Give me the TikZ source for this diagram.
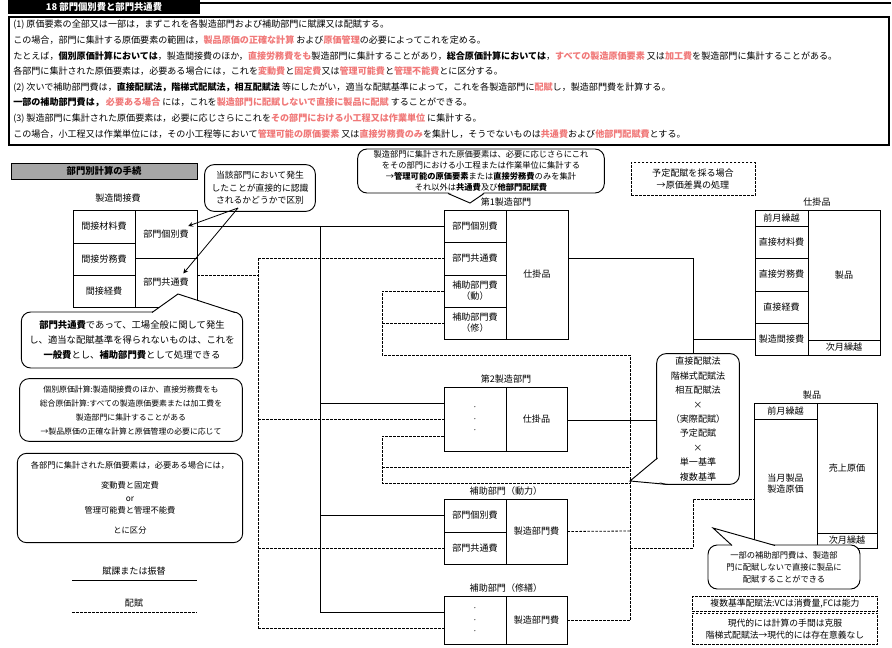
\documentclass[tikz,border=0pt]{standalone}
\usepackage{fontspec}
\setmainfont{Noto Sans CJK JP}
\usetikzlibrary{arrows,positioning,calc}
\definecolor{hlred}{RGB}{240,120,120}
\newcommand\hl[1]{\textcolor{hlred}{\textbf{#1}}}
\newcommand\fs[2]{\fontsize{#1}{#2}\selectfont}
\tikzstyle{cell} = [draw, inner sep=0pt, align=center, font=\fs{6.8pt}{8.4pt}]
\tikzstyle{fuka} = [draw=black, line width=0.6pt]
\tikzstyle{haifu} = [draw=black, line width=0.6pt, dash pattern=on 2pt off 1pt]
\tikzstyle{callout} = [draw, fill=white, rounded corners=7pt, align=center, line width=0.7pt, inner sep=0pt]
\tikzstyle{memo} = [haifu, fill=white, align=center, inner sep=0pt]
\tikzstyle{arrowK} = [line width=0.6pt,->,>=stealth]
\tikzstyle{lbl} = [font=\fs{6.8pt}{8.4pt}]
% cell: name, x1, y1, x2, y2, text (pixel units)
\newcommand\mkcell[6]{\node[cell, minimum width={(#4-#2)*0.75pt}, minimum height={(#5-#3)*0.75pt}] (#1) at ({(#2+#4)/2},{(#3+#5)/2}) {#6};}

\begin{document}
\begin{tikzpicture}[x=0.75pt,y=-0.75pt]
    \useasboundingbox (0,0) rectangle (892,648);
    % header
    \node (tab) [fill=black, text=white, font=\fs{7pt}{8pt}\bfseries, minimum width=144pt, minimum height=10.5pt, inner sep=0pt] at (104,7) {18 部門個別費と部門共通費};
    \coordinate (topEnd) at (891,3);
    \draw[line width=1.2pt] (tab.east |- topEnd) -- (topEnd);
    \node (honbunBox) [draw, line width=1.1pt, minimum width=661pt, minimum height=97pt, inner sep=0pt] at (449,81) {};
    \draw[line width=0.5pt] ($(honbunBox.north west)+(2,2)$) rectangle ($(honbunBox.south east)+(-2,-2)$);
    \node (honbun) [anchor=north west, align=left, inner sep=0pt, font=\fs{6.8pt}{11.7pt}] at (13,20) {%
        (1) 原価要素の全部又は一部は，まずこれを各製造部門および補助部門に賦課又は配賦する。\\
        この場合，部門に集計する原価要素の範囲は，\hl{製品原価の正確な計算} および\hl{原価管理}の必要によってこれを定める。\\
        たとえば，\textbf{個別原価計算においては}，製造間接費のほか，\hl{直接労務費をも}製造部門に集計することがあり，\textbf{総合原価計算においては}，\hl{すべての製造原価要素} 又は\hl{加工費}を製造部門に集計することがある。\\
        各部門に集計された原価要素は，必要ある場合には，これを\hl{変動費}と\hl{固定費}又は\hl{管理可能費}と\hl{管理不能費}とに区分する。\\
        (2) 次いで補助部門費は，\textbf{直接配賦法，階梯式配賦法，相互配賦法} 等にしたがい，適当な配賦基準によって，これを各製造部門に\hl{配賦}し，製造部門費を計算する。\\
        \textbf{一部の補助部門費は，} \hl{必要ある場合} には，これを\hl{製造部門に配賦しないで直接に製品に配賦} することができる。\\
        (3) 製造部門に集計された原価要素は，必要に応じさらにこれを\hl{その部門における小工程又は作業単位} に集計する。\\
        この場合，小工程又は作業単位には，その小工程等において\hl{管理可能の原価要素} 又は\hl{直接労務費のみ}を集計し，そうでないものは\hl{共通費}および\hl{他部門配賦費}とする。};
    \node (tetsuzuki) [draw, fill=black!35, font=\fs{7pt}{8pt}\bfseries, minimum width=139.5pt, minimum height=12pt, inner sep=0pt] at (104,171) {部門別計算の手続};

    % overhead table
    \node (seizoKan) [lbl] at (118,198) {製造間接費};
    \mkcell{kzai}{73}{210}{135}{243}{間接材料費}
    \mkcell{kro}{73}{243}{135}{275}{間接労務費}
    \mkcell{kkei}{73}{275}{135}{307}{間接経費}
    \mkcell{kobetsu}{135}{210}{197}{258}{部門個別費}
    \mkcell{kyotsu}{135}{258}{197}{307}{部門共通費}

    % first production department
    \node (dept1) [lbl] at (506,202) {第1製造部門};
    \mkcell{aKobetsu}{444}{210}{506}{242}{部門個別費}
    \mkcell{aKyotsu}{444}{242}{506}{275}{部門共通費}
    \mkcell{aDo}{444}{275}{506}{307}{補助部門費\\（動）}
    \mkcell{aShu}{444}{307}{506}{339}{補助部門費\\（修）}
    \mkcell{aWip}{506}{210}{568}{339}{仕掛品}

    % second production department
    \node (dept2) [lbl] at (506,379) {第2製造部門};
    \mkcell{bIn}{444}{387}{506}{451}{$\cdot$\\$\cdot$\\$\cdot$}
    \mkcell{bWip}{506}{387}{567}{451}{仕掛品}

    % service department (power)
    \node (dept3) [lbl] at (506,491) {補助部門（動力）};
    \mkcell{cKobetsu}{444}{499}{506}{532}{部門個別費}
    \mkcell{cKyotsu}{444}{532}{506}{564}{部門共通費}
    \mkcell{cOut}{506}{499}{567}{564}{製造部門費}

    % service department (repair)
    \node (dept4) [lbl] at (506,588) {補助部門（修繕）};
    \mkcell{dIn}{444}{596}{506}{644}{$\cdot$\\$\cdot$\\$\cdot$}
    \mkcell{dOut}{506}{596}{567}{644}{製造部門費}

    % work in process account
    \node (wipLbl) [lbl] at (817,202) {仕掛品};
    \mkcell{wMae}{755}{210}{808}{226}{前月繰越}
    \mkcell{wZai}{755}{226}{808}{258}{直接材料費}
    \mkcell{wRo}{755}{258}{808}{291}{直接労務費}
    \mkcell{wKei}{755}{291}{808}{323}{直接経費}
    \mkcell{wKan}{755}{323}{808}{355}{製造間接費}
    \mkcell{wSei}{808}{210}{880}{340}{製品}
    \mkcell{wJi}{808}{340}{880}{355}{次月繰越}

    % finished goods account
    \node (prodLbl) [lbl] at (812,395) {製品};
    \mkcell{pMae}{754}{403}{817}{419}{前月繰越}
    \mkcell{pTou}{754}{419}{817}{548}{当月製品\\製造原価}
    \mkcell{pUri}{817}{403}{877}{533}{売上原価}
    \mkcell{pJi}{817}{533}{877}{548}{次月繰越}

    % junctions
    \coordinate (sTop) at (320,226);
    \coordinate (sB) at (320,403);
    \coordinate (sC) at (320,515);
    \coordinate (sBot) at (320,612);
    \coordinate (hK) at (258,275);
    \coordinate (hTop) at (258,258);
    \coordinate (hB) at (258,419);
    \coordinate (hC) at (258,548);
    \coordinate (hBot) at (258,628);
    \coordinate (aBr) at (382,291);
    \coordinate (aBrBot) at (382,355);
    \coordinate (bBr) at (382,436);
    \coordinate (bBr2) at (382,467);
    \coordinate (bBrBot) at (382,483);
    \coordinate (rTop) at (630,355);
    \coordinate (rC) at (630,531);
    \coordinate (rD) at (630,620);
    \coordinate (rP) at (630,548);
    \coordinate (wTop) at (693,258);
    \coordinate (wMid) at (693,339);
    \coordinate (wB) at (693,420);
    \coordinate (pBend) at (693,548);
    \coordinate (pIn) at (693,499);

    % assignment (solid)
    \draw[fuka] (kobetsu.east |- sTop) -- (aKobetsu.west);
    \draw[fuka] (sTop) -- (sBot);
    \draw[fuka] (sB) -- (sB -| bIn.west);
    \draw[fuka] (sC) -- (sC -| cKobetsu.west);
    \draw[fuka] (sBot) -- (sBot -| dIn.west);
    \draw[fuka] (aWip.east |- wTop) -- (wTop) -- (wB);
    \draw[fuka] (wMid) -- (wMid -| wKan.west);
    \draw[fuka] (bWip.east |- wB) -- (wB);

    % allocation (dashed)
    \draw[haifu] (kyotsu.east |- hK) -- (hK);
    \draw[haifu] (hTop) -- (hBot);
    \draw[haifu] (hTop) -- (hTop -| aKyotsu.west);
    \draw[haifu] (hB) -- (hB -| bIn.west);
    \draw[haifu] (hC) -- (hC -| cKyotsu.west);
    \draw[haifu] (hBot) -- (hBot -| dIn.west);
    \draw[haifu] (aBr -| aDo.west) -- (aBr) -- (aBrBot) -- (rTop) -- (rD);
    \draw[haifu] (aBr |- aShu.west) -- (aShu.west);
    \draw[haifu] (bBr -| bIn.west) -- (bBr) -- (bBrBot) -- (bBrBot -| rTop);
    \draw[haifu] (bBr2) -- (bBr2 -| rTop);
    \draw[haifu] (cOut.east) -- (rC);
    \draw[haifu] (dOut.east) -- (rD);
    \draw[haifu] (rP) -- (pBend) -- (pIn) -- (pIn -| pTou.west);

    % callouts
    \node (tougai) [callout, minimum width=83pt, minimum height=35pt, font=\fs{6.6pt}{9.5pt}] at (260,188) {当該部門において発生\\したことが直接的に認識\\されるかどうかで区別};
    \coordinate (tougaiP) at (238,208);
    \draw[arrowK] (tougaiP) -- ($(kobetsu.east)+(-9,-8)$);
    \draw[arrowK] (tougaiP) -- ($(kyotsu.east)+(-14,-9)$);

    \node (ippan) [callout, minimum width=166pt, minimum height=42pt, font=\fs{7pt}{11pt}] at (132,340) {\textbf{部門共通費}であって、工場全般に関して発生\\し、適当な配賦基準を得られないものは、これを\\\textbf{一般費}とし、\textbf{補助部門費}として処理できる};
    \fill[white] (152,313) -- (178,294) -- (235,313) -- cycle;
    \draw[line width=0.7pt] (152,312.5) -- (178,294) -- (235,312.5);

    \node (kobetsuMemo) [callout, minimum width=167pt, minimum height=47pt, font=\fs{5.9pt}{10.5pt}] at (131,410) {個別原価計算:製造間接費のほか、直接労務費をも\\総合原価計算:すべての製造原価要素または加工費を\\製造部門に集計することがある\\→製品原価の正確な計算と原価管理の必要に応じて};
    \node (kubun) [callout, minimum width=169pt, minimum height=67pt, font=\fs{6.2pt}{9.6pt}] at (130,498) {各部門に集計された原価要素は，必要ある場合には，\\[5pt]変動費と固定費\\or\\管理可能費と管理不能費\\[5pt]とに区分};

    \node (shokotei) [callout, minimum width=185pt, minimum height=33pt, font=\fs{6.2pt}{8.2pt}] at (481,171) {製造部門に集計された原価要素は、必要に応じさらにこれ\\をその部門における小工程または作業単位に集計する\\→\textbf{管理可能の原価要素}または\textbf{直接労務費}のみを集計\\それ以外は\textbf{共通費}及び\textbf{他部門配賦費}};
    \fill[white] (448,192) -- (470,203) -- (484,192) -- cycle;
    \draw[line width=0.7pt] (448,193.5) -- (470,203) -- (484,193.5);

    \node (yotei) [memo, minimum width=93pt, minimum height=25pt, font=\fs{6.8pt}{9.5pt}] at (693,179) {予定配賦を採る場合\\→原価差異の処理};

    \node (hoho) [callout, minimum width=62pt, minimum height=98pt, font=\fs{6.8pt}{10.8pt}] at (698,419) {直接配賦法\\階梯式配賦法\\相互配賦法\\×\\（実際配賦）\\予定配賦\\×\\単一基準\\複数基準};
    \fill[white] (658.5,458) -- (630,481) -- (670,483) -- cycle;
    \draw[line width=0.7pt] (657.5,458) -- (630,481) -- (668,484.5);

    \node (chokusetsu) [callout, minimum width=114pt, minimum height=33pt, font=\fs{6.2pt}{9pt}] at (784,567) {一部の補助部門費は、製造部\\門に配賦しないで直接に製品に\\配賦することができる};
    \fill[white] (732,546) -- (713,528) -- (775,546) -- cycle;
    \draw[line width=0.7pt] (732,545.5) -- (713,528) -- (775,545.5);

    \node (fukusu) [memo, minimum width=139pt, minimum height=11pt, font=\fs{6.6pt}{8pt}] at (785,604) {複数基準配賦法:VCは消費量,FCは能力};
    \node (kaitei) [memo, minimum width=139pt, minimum height=23.5pt, font=\fs{6.6pt}{9.5pt}] at (785,629) {現代的には計算の手間は克服\\階梯式配賦法→現代的には存在意義なし};

    % legend
    \node (fukaLbl) [lbl] at (134,571) {賦課または振替};
    \draw[fuka] (72,580) -- (197,580);
    \node (haifuLbl) [lbl] at (134,603) {配賦};
    \draw[haifu] (72,612) -- (197,612);
\end{tikzpicture}
\end{document}
